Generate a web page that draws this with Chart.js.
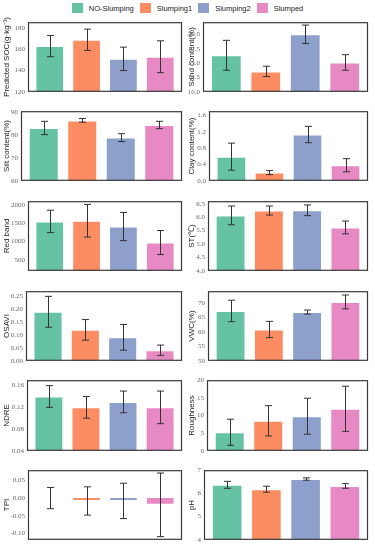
<!DOCTYPE html>
<html>
<head>
<meta charset="utf-8">
<script src="https://cdn.jsdelivr.net/npm/chart.js@4.4.0/dist/chart.umd.min.js"></script>
<style>
  body { margin: 0; background: #fff; width: 375px; height: 550px; position: relative; overflow: hidden; font-family: "Liberation Sans", Arial, sans-serif; }
  #legend { position: absolute; top: 3px; left: 0; width: 375px; display: flex; justify-content: center; font-size: 7.5px; color: #222; }
  .item { display: flex; align-items: center; margin: 0 3px; }
  .sw { width: 11px; height: 10px; margin-right: 6px; }
  canvas { position: absolute; }
</style>
</head>
<body>
<div id="legend"></div>
<script>
// groups + colours (seaborn Set2)
const groups = ['NO-Slumping', 'Slumping1', 'Slumping2', 'Slumped'];
const colors = ['#66c2a5', '#fc8d62', '#8da0cb', '#e78ac3'];

// mean and error (sd) per variable
const socMean = [163, 169, 151, 153];
const socErr = [10, 10, 11, 15];
const sandMean = [16.35, 13.55, 20.0, 15.1];
const sandErr = [2.6, 0.9, 1.6, 1.35];
const siltMean = [83.0, 86.3, 78.8, 84.3];
const siltErr = [2.9, 0.8, 1.7, 1.6];
const clayMean = [0.59, 0.20, 1.13, 0.38];
const clayErr = [0.33, 0.05, 0.2, 0.16];
const redMean = [1548, 1566, 1408, 972];
const redErr = [305, 445, 385, 328];
const stMean = [6.07, 6.25, 6.26, 5.62];
const stErr = [0.35, 0.17, 0.2, 0.24];
const osaviMean = [0.19, 0.12, 0.091, 0.041];
const osaviErr = [0.06, 0.04, 0.05, 0.02];
const vwcMean = [67.2, 60.8, 66.8, 70.3];
const vwcErr = [3.7, 2.8, 0.7, 2.4];
const ndreMean = [0.14, 0.12, 0.13, 0.12];
const ndreErr = [0.02, 0.02, 0.02, 0.03];
const roughMean = [5.25, 8.5, 9.8, 11.9];
const roughErr = [3.7, 4.3, 5.1, 6.4];
const tpiMean = [0.0, -0.008, -0.008, -0.019];
const tpiErr = [0.03, 0.04, 0.05, 0.09];
const phMean = [6.37, 6.18, 6.62, 6.32];
const phErr = [0.15, 0.13, 0.05, 0.1];

// y tick labels
const socTicks = [120, 140, 160, 180];
const sandTicks = [10, 12.5, 15, 17.5, 20];
const siltTicks = [60, 70, 80, 90];
const clayTicks = [0, 0.4, 0.8, 1.2, 1.6];
const redTicks = [500, 1000, 1500, 2000];
const stTicks = [4, 4.5, 5, 5.5, 6, 6.5];
const osaviTicks = [0, 0.05, 0.1, 0.15, 0.2, 0.25];
const vwcTicks = [50, 55, 60, 65, 70];
const ndreTicks = [0.04, 0.08, 0.12, 0.16];
const roughTicks = [0, 5, 10, 15, 20];
const tpiTicks = [-0.1, -0.05, 0, 0.05];
const phTicks = [4, 5, 6, 7];

// legend
const leg = document.getElementById('legend');
groups.forEach((g, i) => {
  const it = document.createElement('div');
  it.className = 'item';
  it.innerHTML = '<span class="sw" style="background:' + colors[i] + '"></span><span>' + g + '</span>';
  leg.appendChild(it);
});

// panel: title, data, axis, plot rect [left, top, right, bottom]
const panels = [
  { title: 'Predicted SOC(g·kg⁻¹)', mean: socMean, err: socErr, ticks: socTicks, dec: 0, min: 120, max: 185.5, rect: [28, 21, 182, 93] },
  { title: 'Sand content(%)', mean: sandMean, err: sandErr, ticks: sandTicks, dec: 1, min: 10, max: 22.1, rect: [203, 21, 368, 93] },
  { title: 'Silt content(%)', mean: siltMean, err: siltErr, ticks: siltTicks, dec: 0, min: 60, max: 90.3, rect: [21, 110, 182, 182] },
  { title: 'Clay content(%)', mean: clayMean, err: clayErr, ticks: clayTicks, dec: 1, min: 0, max: 1.7, rect: [209, 110, 368, 182] },
  { title: 'Red band', mean: redMean, err: redErr, ticks: redTicks, dec: 0, min: 200, max: 2100, rect: [28, 200, 182, 272] },
  { title: 'ST(℃)', mean: stMean, err: stErr, ticks: stTicks, dec: 1, min: 4, max: 6.6, rect: [208, 200, 368, 272] },
  { title: 'OSAVI', mean: osaviMean, err: osaviErr, ticks: osaviTicks, dec: 2, min: 0, max: 0.27, rect: [26, 290, 182, 362] },
  { title: 'VWC(%)', mean: vwcMean, err: vwcErr, ticks: vwcTicks, dec: 0, min: 50, max: 74, rect: [208, 290, 368, 362] },
  { title: 'NDRE', mean: ndreMean, err: ndreErr, ticks: ndreTicks, dec: 2, min: 0.04, max: 0.17, rect: [27, 379, 182, 452] },
  { title: 'Roughness', mean: roughMean, err: roughErr, ticks: roughTicks, dec: 0, min: 0, max: 20, rect: [207, 379, 368, 452] },
  { title: 'TPI', mean: tpiMean, err: tpiErr, ticks: tpiTicks, dec: 2, min: -0.118, max: 0.079, rect: [28, 469, 182, 541] },
  { title: 'pH', mean: phMean, err: phErr, ticks: phTicks, dec: 0, min: 4, max: 7, rect: [204, 469, 368, 541] },
];

// error bars + frame around the plot area
function errorBars(p) {
  return {
    id: 'errorBars',
    afterDatasetsDraw(chart) {
      const { ctx, chartArea: a, scales: { x, y } } = chart;
      ctx.save();
      ctx.strokeStyle = '#333';
      ctx.lineWidth = 1;
      p.mean.forEach((m, i) => {
        const cx = Math.round(x.getPixelForValue(i)) + 0.5;
        const y1 = y.getPixelForValue(m + p.err[i]);
        const y2 = y.getPixelForValue(m - p.err[i]);
        ctx.beginPath();
        ctx.moveTo(cx, y1); ctx.lineTo(cx, y2);
        ctx.moveTo(cx - 3.5, y1); ctx.lineTo(cx + 3.5, y1);
        ctx.moveTo(cx - 3.5, y2); ctx.lineTo(cx + 3.5, y2);
        ctx.stroke();
      });
      ctx.strokeStyle = '#3a3a3a';
      ctx.lineWidth = 1.2;
      ctx.strokeRect(a.left + 0.5, a.top + 0.5, a.right - a.left - 1, a.bottom - a.top - 1);
      ctx.restore();
    }
  };
}

const pad = 6;
panels.forEach((p, idx) => {
  const [pl, pt, pr, pb] = p.rect;
  const left = idx % 2 === 0 ? 0 : 185;
  const w = pr - left + 1;
  const h = pb - pt + 2 * pad;
  const cv = document.createElement('canvas');
  cv.width = w; cv.height = h;
  cv.style.left = left + 'px';
  cv.style.top = (pt - pad) + 'px';
  cv.style.width = w + 'px';
  cv.style.height = h + 'px';
  document.body.appendChild(cv);

  new Chart(cv, {
    type: 'bar',
    data: {
      datasets: [{
        data: p.mean.map((v, i) => ({ x: i, y: v })),
        backgroundColor: colors,
        borderColor: 'rgba(255,255,255,0.45)',
        borderWidth: 1,
        barPercentage: 0.78,
        categoryPercentage: 1
      }]
    },
    options: {
      responsive: false,
      animation: false,
      layout: { padding: { left: 0, right: 1, top: pad, bottom: pad } },
      plugins: { legend: { display: false }, tooltip: { enabled: false } },
      scales: {
        x: { type: 'linear', display: false, offset: false, min: -0.59, max: 3.59 },
        y: {
          min: p.min,
          max: p.max,
          afterFit: s => { s.width = pl - left; },
          afterBuildTicks: s => { s.ticks = p.ticks.map(v => ({ value: v })); },
          grid: { display: false, drawTicks: false },
          border: { display: false },
          ticks: {
            padding: 3,
            color: '#666',
            font: { family: 'Liberation Serif', size: 7 },
            callback: v => Number(v).toFixed(p.dec)
          },
          title: {
            display: true,
            text: p.title,
            color: '#222',
            font: { family: 'Liberation Sans', size: 8 },
            padding: { top: 2, bottom: 0 }
          }
        }
      }
    },
    plugins: [errorBars(p)]
  });
});
</script>
</body>
</html>
